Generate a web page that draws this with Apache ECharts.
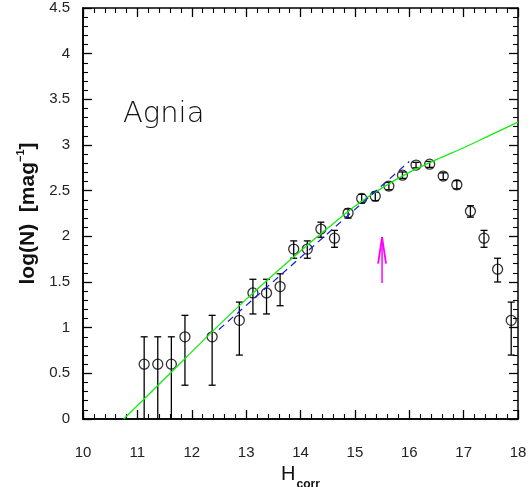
<!DOCTYPE html>
<html>
<head>
<meta charset="utf-8">
<script src="https://cdn.jsdelivr.net/npm/echarts@6/dist/echarts.min.js"></script>
<style>html,body{margin:0;padding:0;background:#fff;}#c{width:531px;height:487px;}</style>
</head>
<body>
<div id="c"></div>
<script>
// ---- data ----
const hx     = [11.125, 11.375, 11.625, 11.875, 12.375, 12.875, 13.125, 13.375, 13.625, 13.875, 14.125, 14.375, 14.625, 14.875, 15.125, 15.375, 15.625, 15.875, 16.125, 16.375, 16.625, 16.875, 17.125, 17.375, 17.625, 17.875];
const logN   = [0.60, 0.60, 0.60, 0.90, 0.90, 1.08, 1.38, 1.38, 1.45, 1.86, 1.86, 2.08, 1.98, 2.255, 2.415, 2.44, 2.55, 2.67, 2.78, 2.79, 2.66, 2.565, 2.275, 1.98, 1.64, 1.08];
const errHi  = [0.90, 0.90, 0.90, 1.135, 1.135, 1.28, 1.53, 1.53, 1.59, 1.95, 1.95, 2.155, 2.065, 2.30, 2.46, 2.485, 2.59, 2.705, 2.81, 2.82, 2.695, 2.61, 2.335, 2.065, 1.76, 1.28];
const errLo  = [0, 0, 0, 0.37, 0.37, 0.70, 1.15, 1.15, 1.24, 1.76, 1.76, 1.99, 1.88, 2.20, 2.365, 2.39, 2.51, 2.635, 2.75, 2.755, 2.62, 2.52, 2.21, 1.88, 1.50, 0.70];

const fitX   = [10.75, 11.5, 12.4, 13.0, 13.5, 14.0, 14.5, 15.0, 15.5, 16.0, 16.5, 17.0, 17.5, 18.0];
const fitY   = [0.00, 0.44, 0.97, 1.31, 1.58, 1.84, 2.09, 2.33, 2.53, 2.70, 2.84, 2.97, 3.11, 3.25];

const dashX  = [12.5, 16.0];
const dashY  = [0.98, 2.82];

const arrowShaftX = [15.5, 15.5];
const arrowShaftY = [1.49, 1.99];
const arrowHeadX  = [15.427, 15.5, 15.573];
const arrowHeadY  = [1.70, 1.99, 1.70];

const xTicks = [10, 18, 1];   // min, max, interval
const yTicks = [0, 4.5, 0.5];

const familyName = 'Agnia';
// --------------------------------------

const zip = (a, b) => a.map((v, i) => [v, b[i]]);
const gridBox = { left: 83, right: 13, top: 8, bottom: 68, outerBoundsMode: 'none' };

// frame axes (ticks on all four sides) in an overlay grid
function tickAxis(extra) {
  return Object.assign({
    type: 'value', gridIndex: 1,
    axisLine: { show: true, lineStyle: { color: '#000', width: 1.5 } },
    axisTick: { show: true, inside: true, length: 9, lineStyle: { color: '#000', width: 1.3 } },
    minorTick: { show: true, splitNumber: 5, length: 5, lineStyle: { color: '#000', width: 1.1 } },
    axisLabel: { show: false },
    splitLine: { show: false }
  }, extra);
}
const labelStyle = { color: '#222', fontSize: 15, fontFamily: 'Liberation Sans, Arial, sans-serif' };

const chart = echarts.init(document.getElementById('c'));

chart.setOption({
  animation: false,
  title: {
    text: familyName,
    left: 123, top: 100, padding: 0,
    textStyle: { fontFamily: 'DejaVu Sans', fontWeight: 200, fontSize: 29, color: '#111' }
  },
  grid: [Object.assign({}, gridBox), Object.assign({}, gridBox)],
  xAxis: [
    {
      type: 'value', gridIndex: 0, min: xTicks[0], max: xTicks[1], interval: xTicks[2], position: 'bottom',
      axisLine: { show: true, lineStyle: { color: '#000', width: 1.5 } },
      axisTick: { show: false }, splitLine: { show: false },
      axisLabel: Object.assign({ margin: 26 }, labelStyle),
      name: '{h|H}{s|corr}', nameLocation: 'middle', nameGap: 37,
      nameTextStyle: {
        rich: {
          h: { fontSize: 20, fontFamily: 'Liberation Sans, Arial', color: '#111', lineHeight: 22, verticalAlign: 'top' },
          s: { fontSize: 12, fontWeight: 'bold', fontFamily: 'Liberation Sans, Arial', color: '#111', lineHeight: 12, padding: [14, 0, 0, 1], verticalAlign: 'top' }
        }
      }
    },
    tickAxis({ min: xTicks[0], max: xTicks[1], interval: xTicks[2], position: 'bottom' }),
    tickAxis({ min: xTicks[0], max: xTicks[1], interval: xTicks[2], position: 'top',
      axisLine: { show: true, onZero: false, lineStyle: { color: '#000', width: 1.5 } } })
  ],
  yAxis: [
    {
      type: 'value', gridIndex: 0, min: yTicks[0], max: yTicks[1], interval: yTicks[2], position: 'left',
      axisLine: { show: true, lineStyle: { color: '#000', width: 1.5 } },
      axisTick: { show: false }, splitLine: { show: false },
      axisLabel: Object.assign({ margin: 13 }, labelStyle),
      name: '{a|log(N)  [mag}{b|−1}{a|]}', nameLocation: 'middle', nameGap: 40, nameRotate: 90,
      nameTextStyle: {
        rich: {
          a: { fontSize: 21, fontWeight: 'bold', fontFamily: 'Liberation Sans, Arial', color: '#111', lineHeight: 24, verticalAlign: 'bottom' },
          b: { fontSize: 11, fontWeight: 'bold', fontFamily: 'Liberation Sans, Arial', color: '#111', lineHeight: 11, padding: [0, 0, 12, 0], verticalAlign: 'bottom' }
        }
      }
    },
    tickAxis({ min: yTicks[0], max: yTicks[1], interval: yTicks[2], position: 'left' }),
    tickAxis({ min: yTicks[0], max: yTicks[1], interval: yTicks[2], position: 'right' })
  ],
  series: [
    {
      type: 'line', data: zip(fitX, fitY), smooth: 0.3, showSymbol: false, symbol: 'none',
      lineStyle: { color: '#11ee11', width: 1.3 }
    },
    {
      type: 'line', data: zip(dashX, dashY), showSymbol: false, symbol: 'none',
      lineStyle: { color: '#1515ee', width: 1.2, type: [7, 5] }
    },
    {
      type: 'custom',
      data: hx.map((x, i) => [x, errLo[i], errHi[i]]),
      renderItem: function (params, api) {
        const x = api.value(0), lo = api.value(1), hi = api.value(2);
        const pl = api.coord([x, lo]), ph = api.coord([x, hi]);
        const w = 3.5;
        const st = { stroke: '#000', lineWidth: 1.3 };
        const ch = [
          { type: 'line', shape: { x1: pl[0], y1: pl[1], x2: ph[0], y2: ph[1] }, style: st },
          { type: 'line', shape: { x1: ph[0] - w, y1: ph[1], x2: ph[0] + w, y2: ph[1] }, style: st }
        ];
        if (lo > 0) ch.push({ type: 'line', shape: { x1: pl[0] - w, y1: pl[1], x2: pl[0] + w, y2: pl[1] }, style: st });
        return { type: 'group', children: ch };
      }
    },
    {
      type: 'scatter', data: zip(hx, logN), symbol: 'circle', symbolSize: 10,
      itemStyle: { color: 'rgba(0,0,0,0)', borderColor: '#000', borderWidth: 1.3 }
    },
    {
      type: 'line', data: zip(arrowShaftX, arrowShaftY), showSymbol: false, symbol: 'none',
      lineStyle: { color: '#ff00ff', width: 1.5 }
    },
    {
      type: 'line', data: zip(arrowHeadX, arrowHeadY), showSymbol: false, symbol: 'none',
      lineStyle: { color: '#ff00ff', width: 1.8 }
    },
    {
      // invisible carrier series so the frame grid is laid out
      type: 'line', xAxisIndex: 1, yAxisIndex: 1, data: [], symbol: 'none', silent: true
    }
  ]
});
</script>
</body>
</html>
